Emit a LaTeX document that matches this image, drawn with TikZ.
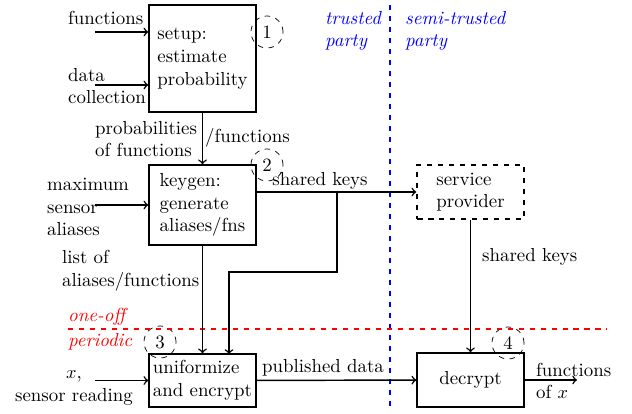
\documentclass[tikz,border=0pt]{standalone}
\begin{document}
\begin{tikzpicture}[x=0.546pt,y=-0.546pt,>=to,
  every node/.style={font=\fontsize{10.3}{12.4}\selectfont},
  box/.style={draw,thick,minimum width=58.4pt,align=left,inner sep=1pt},
  num/.style={draw,dashed,circle,minimum size=17.5pt,inner sep=0pt},
  lbl/.style={align=left,inner sep=1pt},
  conn/.style={thick,->},
  party/.style={lbl,blue,font=\fontsize{10.3}{12.4}\selectfont\itshape},
  phase/.style={lbl,red,font=\fontsize{10.3}{12.4}\selectfont\itshape}]
\useasboundingbox (0,0) rectangle (632,414);
% boxes
\node[box,minimum height=58.4pt] (setup) at (202.5,58.5) {setup:\\estimate\\probability};
\node[box,minimum height=43.7pt] (keygen) at (202.5,205) {keygen:\\generate\\aliases/fns};
\node[box,minimum height=28.9pt] (unif) at (202.5,380.5) {uniformize\\and encrypt};
\node[box,dashed,minimum height=29.5pt] (sp) at (470.5,192) {service\\provider};
\node[box,minimum height=29.5pt,align=center] (dec) at (470.5,380) {decrypt};
% numbered circles
\node[num] (n1) at (267,32) {1};
\node[num] (n2) at (267,165) {2};
\node[num] (n3) at (160,342) {3};
\node[num] (n4) at (508,343) {4};
% separators
\coordinate (vtop) at (390,5);
\coordinate (vbot) at (390,407);
\draw[blue,dashed,thick] (vtop) -- (vbot);
\coordinate (hl) at (68,329);
\coordinate (hr) at (607,329);
\draw[red,dashed,thick] (hl) -- (hr);
\node[party,anchor=west] (tp) at (323,31) {trusted\\party};
\node[party,anchor=west] (stp) at (403,31) {semi-trusted\\party};
\node[phase,anchor=west] (oo) at (66,317) {one-off};
\node[phase,anchor=west] (per) at (66,342) {periodic};
% inputs
\node[lbl,anchor=west] (lf) at (66,18) {functions};
\coordinate (if) at (95,32);
\draw[conn] (if) -- (if -| setup.west);
\node[lbl,anchor=west] (ld) at (66,86) {data\\collection};
\coordinate (id) at (95,85);
\draw[conn] (id) -- (id -| setup.west);
\node[lbl,anchor=west] (lm) at (45,207) {maximum\\sensor\\aliases};
\coordinate (im) at (95,205);
\draw[conn] (im) -- (keygen.west);
\node[lbl,align=center] (lx) at (74,388) {$x$,\\sensor reading};
\coordinate (ix) at (95,380.5);
\draw[conn] (ix) -- (unif.west);
% main flow
\draw[conn] (setup.south) -- (keygen.north);
\node[lbl,anchor=west] (lp) at (93,139) {probabilities\\of functions};
\node[lbl,anchor=west] (lsl) at (203,138) {/functions};
\draw[conn] (keygen.south) -- (unif.north);
\node[lbl,anchor=west] (ll) at (60,271) {list of\\aliases/functions};
\draw[conn] (keygen.east |- sp.west) -- (sp.west);
\node[lbl] (lsk) at (320,181) {shared keys};
\coordinate (br) at (337,192);
\coordinate (bend) at (337,272);
\coordinate (u2) at (229,354);
\draw[conn] (br) -- (bend) -| (u2);
\draw[conn] (unif) -- (dec);
\node[lbl] (lpd) at (323,368) {published data};
\draw[conn] (sp) -- (dec);
\node[lbl,anchor=west] (lsk2) at (480,257) {shared keys};
\coordinate (out) at (577,380);
\draw[conn] (dec.east) -- (out);
\node[lbl,anchor=west] (lo) at (534,381) {functions\\of $x$};
\end{tikzpicture}
\end{document}
